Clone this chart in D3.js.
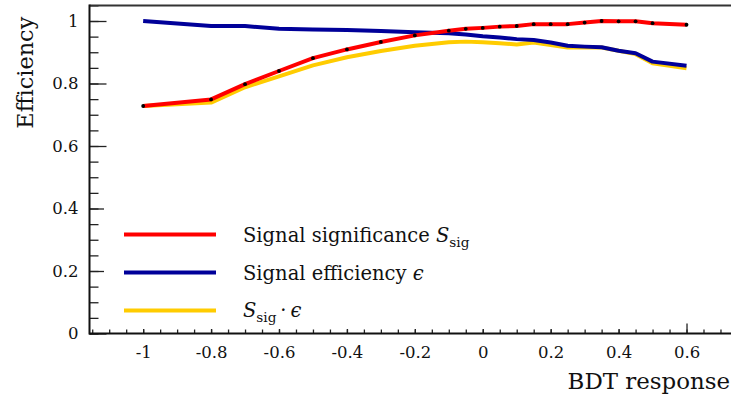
<!DOCTYPE html>
<html>
<head>
<meta charset="utf-8">
<script src="https://cdn.jsdelivr.net/npm/d3@7"></script>
<style>
  html, body { margin: 0; padding: 0; background: #fff; }
  svg { display: block; }
  text { font-family: "DejaVu Serif", serif; fill: #111; }
</style>
</head>
<body>
<svg id="chart" width="731" height="403"></svg>
<script>
// ---- data ----
const bdtCut = [-1, -0.8, -0.7, -0.6, -0.5, -0.4, -0.3, -0.2, -0.1, -0.05, 0, 0.05, 0.1, 0.15, 0.2, 0.25, 0.3, 0.35, 0.4, 0.45, 0.5, 0.6];
const significance = [0.728, 0.749, 0.798, 0.840, 0.881, 0.909, 0.933, 0.954, 0.969, 0.975, 0.978, 0.982, 0.984, 0.990, 0.990, 0.990, 0.995, 1.000, 0.999, 0.999, 0.993, 0.988];
const efficiency = [1.000, 0.984, 0.984, 0.975, 0.973, 0.971, 0.968, 0.964, 0.961, 0.957, 0.951, 0.947, 0.942, 0.939, 0.931, 0.921, 0.918, 0.916, 0.905, 0.897, 0.870, 0.857];
const product = [0.728, 0.739, 0.788, 0.823, 0.858, 0.884, 0.904, 0.921, 0.932, 0.934, 0.932, 0.929, 0.925, 0.931, 0.923, 0.915, 0.915, 0.915, 0.905, 0.894, 0.865, 0.849];
const xTickValues = [-1, -0.8, -0.6, -0.4, -0.2, 0, 0.2, 0.4, 0.6];
const yTickValues = [0, 0.2, 0.4, 0.6, 0.8, 1];
const seriesNames = ["significance", "efficiency", "product"];

const svg = d3.select("#chart");
svg.append("rect").attr("width", 731).attr("height", 403).attr("fill", "#fff");

const mLeft = 89.5, mBottom = 333.5, mTop = 5.5;
const x = d3.scaleLinear().domain([-1.158, 0.76]).range([mLeft, mLeft + 1.918 * 339.6]);
const y = d3.scaleLinear().domain([0, 1.05]).range([mBottom, mBottom - 1.05 * 312.5]);

const colors = { significance: "#ff0000", efficiency: "#000099", product: "#ffcc00" };
const values = { significance, efficiency, product };

// minor ticks
const yMinor = d3.range(0, 1.0501, 0.05);
const xMinor = d3.range(-1.15, 0.751, 0.05);

svg.append("g").attr("transform", `translate(${mLeft},0)`)
  .call(d3.axisLeft(y).tickValues(yMinor).tickSize(-9).tickFormat(""))
  .call(g => g.select(".domain").remove())
  .selectAll("line").attr("stroke", "#222").attr("stroke-width", 1.3);

svg.append("g").attr("transform", `translate(0,${mBottom})`)
  .call(d3.axisBottom(x).tickValues(xMinor).tickSize(-4).tickFormat(""))
  .call(g => g.select(".domain").remove())
  .selectAll("line").attr("stroke", "#222").attr("stroke-width", 1.3);

// major ticks + labels
const yAxis = svg.append("g").attr("transform", `translate(${mLeft},0)`)
  .call(d3.axisLeft(y).tickValues(yTickValues).tickSize(-17).tickPadding(11).tickFormat(d => String(d)));
yAxis.select(".domain").remove();
yAxis.selectAll("line").attr("stroke", "#222").attr("stroke-width", 1.3);
yAxis.selectAll("text").attr("font-family", "DejaVu Serif").attr("font-size", 16.5).attr("fill", "#111");

const xAxis = svg.append("g").attr("transform", `translate(0,${mBottom})`)
  .call(d3.axisBottom(x).tickValues(xTickValues).tickSize(-10).tickPadding(13).tickFormat(d => String(d)));
xAxis.select(".domain").remove();
xAxis.selectAll("line").attr("stroke", "#222").attr("stroke-width", 1.3);
xAxis.selectAll("text").attr("font-family", "DejaVu Serif").attr("font-size", 16.5).attr("fill", "#111");

// legend background (covers tick marks as in the reference)
svg.append("rect").attr("x", 104).attr("y", 190).attr("width", 546).attr("height", 139).attr("fill", "#fff");

// frame lines
svg.append("line").attr("x1", mLeft).attr("x2", 731).attr("y1", mBottom).attr("y2", mBottom).attr("stroke", "#111").attr("stroke-width", 2);
svg.append("line").attr("x1", mLeft).attr("x2", 731).attr("y1", mTop).attr("y2", mTop).attr("stroke", "#333").attr("stroke-width", 2);
svg.append("line").attr("x1", mLeft).attr("x2", mLeft).attr("y1", mTop - 1).attr("y2", mBottom + 1).attr("stroke", "#111").attr("stroke-width", 2);

// lines
const line = d3.line().x((d, i) => x(bdtCut[i])).y(d => y(d));
["product", "efficiency", "significance"].forEach(k => {
  svg.append("path").datum(values[k]).attr("d", line)
    .attr("fill", "none").attr("stroke", colors[k]).attr("stroke-width", 4)
    .attr("stroke-linejoin", "round");
});
svg.append("g").selectAll("circle").data(significance).join("circle")
  .attr("cx", (d, i) => x(bdtCut[i])).attr("cy", d => y(d)).attr("r", 1.9).attr("fill", "#000");

// legend
const legY = [234.5, 272.5, 310.5];
seriesNames.forEach((k, i) => {
  svg.append("line").attr("x1", 124).attr("x2", 216).attr("y1", legY[i]).attr("y2", legY[i])
    .attr("stroke", colors[k]).attr("stroke-width", 4);
});
const legFont = 19.5;
const t1 = svg.append("text").attr("x", 243).attr("y", 241.7).attr("font-size", legFont);
t1.append("tspan").text("Signal significance ");
t1.append("tspan").attr("font-style", "italic").text("S");
t1.append("tspan").attr("dy", 5).attr("font-size", legFont * 0.7).text("sig");

const t2 = svg.append("text").attr("x", 243).attr("y", 279.5).attr("font-size", legFont);
t2.append("tspan").text("Signal efficiency ");
t2.append("tspan").attr("font-style", "italic").text("\u03F5");

const t3 = svg.append("text").attr("x", 243).attr("y", 317.3).attr("font-size", legFont);
t3.append("tspan").attr("font-style", "italic").text("S");
t3.append("tspan").attr("dy", 5).attr("font-size", legFont * 0.7).text("sig");
t3.append("tspan").attr("dy", -5).text("\u2009\u00B7\u2009");
t3.append("tspan").attr("font-style", "italic").text("\u03F5");

// axis titles
svg.append("text").attr("x", 730).attr("y", 389.3).attr("text-anchor", "end")
  .attr("font-size", 22.9).text("BDT response");
svg.append("text").attr("transform", "translate(33,16.7) rotate(-90)").attr("text-anchor", "end")
  .attr("font-size", 22.4).text("Efficiency");
</script>
</body>
</html>
